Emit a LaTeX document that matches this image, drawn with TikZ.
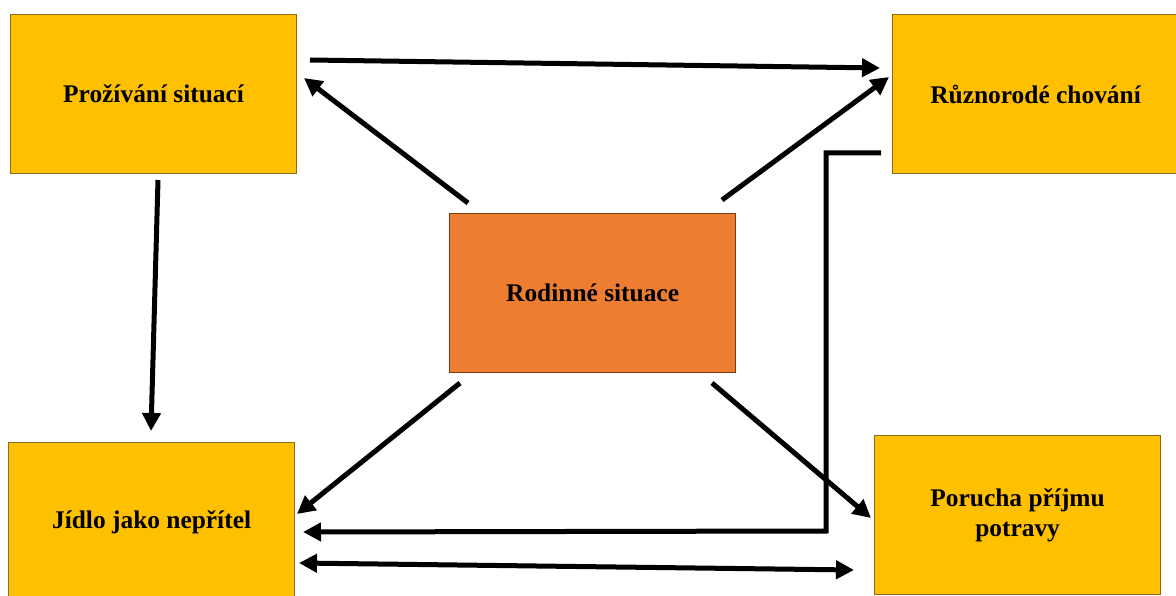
\documentclass[tikz,border=0pt]{standalone}
\usepackage{fontspec}
\setmainfont{Liberation Serif}
\usetikzlibrary{arrows.meta}
\definecolor{boxyellow}{HTML}{FFC000}
\definecolor{boxorange}{HTML}{ED7D31}
\definecolor{yellowedge}{HTML}{8C6D1A}
\definecolor{orangeedge}{HTML}{7A3A10}
\tikzset{bigtip/.tip={Triangle[length=18pt,width=18pt]}}
\begin{document}
\begin{tikzpicture}[x=1pt,y=-1pt,
  box/.style={draw=yellowedge, fill=boxyellow, line width=1.2pt,
    minimum width=286pt, minimum height=159pt, inner sep=0pt,
    align=center, anchor=north west,
    font=\fontsize{25.4}{30}\selectfont\bfseries},
  centrebox/.style={box, draw=orangeedge, fill=boxorange},
  link/.style={line width=5pt, -bigtip},
  twoway/.style={line width=5pt, bigtip-bigtip},
]
\useasboundingbox (0,0) rectangle (1176,596);

% boxes
\node[box] (prozivani) at (10,14) {Prožívání situací};
\node[box] (chovani) at (892,14) {Různorodé chování};
\node[centrebox] (rodinne) at (449,213) {Rodinné situace};
\node[box] (jidlo) at (8,442) {Jídlo jako nepřítel};
\node[box] (porucha) at (874,435) {Porucha příjmu\\potravy};

% free ends of the connectors
\coordinate (topS) at (310,60);
\coordinate (topE) at (880,68);
\coordinate (rodTL) at (468,203);
\coordinate (prozIn) at (304,78);
\coordinate (rodTR) at (722,200);
\coordinate (chovIn) at (889,77);
\coordinate (prozOut) at (158,180);
\coordinate (jidloTop) at (151,431);
\coordinate (rodBL) at (460,383);
\coordinate (jidloIn) at (297,514);
\coordinate (rodBR) at (712,383);
\coordinate (poruchaIn) at (871,518);
\coordinate (chovOut) at (881,153);
\coordinate (bendA) at (826,153);
\coordinate (bendB) at (826,531);
\coordinate (jidloIn2) at (303,532);
\coordinate (pairL) at (299,563);
\coordinate (pairR) at (854,570);

% connectors
\draw[link] (topS) -- (topE);
\draw[link] (rodTL) -- (prozIn);
\draw[link] (rodTR) -- (chovIn);
\draw[link] (prozOut) -- (jidloTop);
\draw[link] (rodBL) -- (jidloIn);
\draw[link] (rodBR) -- (poruchaIn);
\draw[link, line join=miter] (chovOut) -- (bendA) -- (bendB) -- (jidloIn2);
\draw[twoway] (pairL) -- (pairR);
\end{tikzpicture}
\end{document}
